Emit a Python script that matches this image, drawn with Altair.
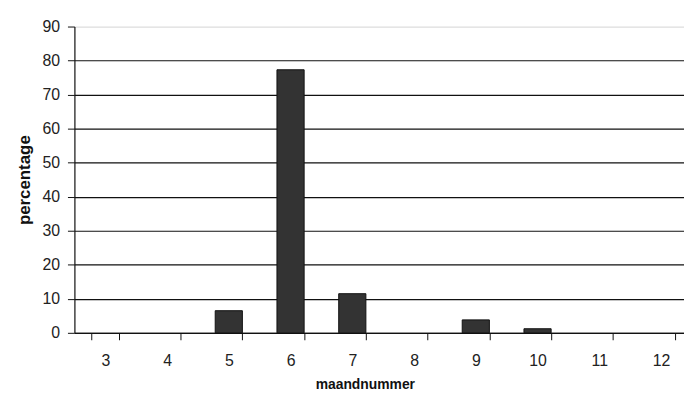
import altair as alt
import pandas as pd

months = ["3", "4", "5", "6", "7", "8", "9", "10", "11", "12"]
percentages = [0, 0, 6.5, 77.3, 11.5, 0, 3.8, 1.2, 0, 0]

df = pd.DataFrame({"maand": months, "pct": percentages})

chart = alt.Chart(df).mark_bar(color="#333333", stroke="#111111", strokeWidth=1).encode(
    x=alt.X("maand:N", sort=months,
            scale=alt.Scale(domain=months, range=[0, 623], paddingInner=0.56, paddingOuter=0.28),
            axis=alt.Axis(title="maandnummer", labelAngle=0, tickBand="extent",
                          tickSize=7, labelPadding=13, titlePadding=9,
                          titleX=293, grid=False)),
    y=alt.Y("pct:Q", scale=alt.Scale(domain=[0, 90]),
            axis=alt.Axis(title="percentage", values=list(range(0, 100, 10)),
                          tickSize=7, labelPadding=8, titlePadding=9,
                          titleFontSize=17,
                          grid=True,
                          gridColor={"condition": {"test": "datum.value == 90", "value": "#dddddd"},
                                     "value": "#111111"})),
).transform_filter("datum.pct > 0").properties(
    width=615, height=309,
    padding={"left": 67, "top": 17, "right": 0, "bottom": 60},
    autosize=alt.AutoSizeParams(type="none"),
).configure_view(stroke=None).configure_axis(
    domainColor="#111111", tickColor="#111111", domainWidth=1.2, gridWidth=1.2,
    labelFont="Liberation Sans", labelFontSize=16, labelColor="#222222",
    titleFont="Liberation Sans", titleFontSize=14, titleFontWeight="bold", titleColor="#111111",
)

chart.save("out.html", embed_options={"renderer": "svg", "actions": False})
